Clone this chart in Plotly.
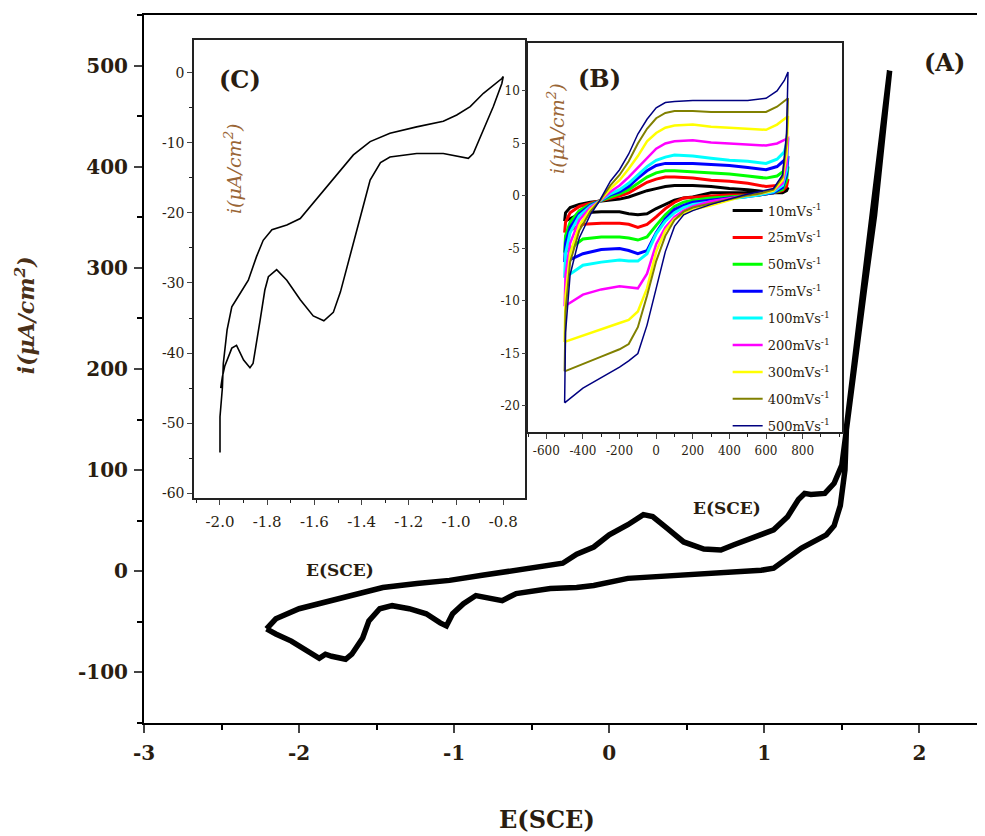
import plotly.graph_objects as go

# ---------------- Main CV (A) ----------------
a_e = [-2.21, -2.15, -2.0, -1.79, -1.61, -1.46, -1.24, -1.03, -0.82, -0.6, -0.38, -0.30, -0.21, -0.14,
       -0.10, 0.0, 0.12, 0.22, 0.28, 0.37, 0.48, 0.61, 0.72, 0.80, 0.93, 1.06, 1.15, 1.22, 1.26, 1.30,
       1.39, 1.45, 1.50, 1.53, 1.581, 1.646, 1.711, 1.754, 1.786, 1.808,
       1.53, 1.52, 1.49, 1.45, 1.40, 1.32, 1.24, 1.15, 1.06, 0.98, 0.76, 0.55, 0.33, 0.12, -0.10, -0.21,
       -0.38, -0.49, -0.60, -0.69, -0.77, -0.86, -0.94, -1.01, -1.05, -1.09, -1.18, -1.29, -1.40, -1.48,
       -1.55, -1.59, -1.66, -1.70, -1.79, -1.83, -1.87, -1.94, -2.05, -2.15, -2.21]
a_i = [-57, -47, -37, -29, -22, -16, -12, -9, -4, 1, 5, 8, 17, 22,
       24, 36, 46, 56, 54, 43, 29, 22, 21, 26, 33, 41, 54, 71, 77, 76,
       77, 87, 105, 143, 203, 279, 352, 419, 469, 495,
       143, 100, 65, 45, 36, 29, 23, 13, 3, 1, -1, -2, -4, -7, -14, -16,
       -17, -19, -22, -29, -26, -24, -32, -42, -54, -51, -42, -37, -34, -37,
       -49, -66, -82, -87, -84, -82, -86, -79, -69, -62, -57]

# ---------------- Inset (C) ----------------
c_e = [-2.0, -2.0, -1.99, -1.986, -1.97, -1.95, -1.915, -1.88, -1.845, -1.817, -1.78, -1.717, -1.66,
       -1.605, -1.548, -1.49, -1.435, -1.364, -1.28, -1.167, -1.054, -0.997, -0.94, -0.884, -0.806, -0.80,
       -0.806, -0.842, -0.884, -0.927, -0.948, -0.983, -1.054, -1.167, -1.28, -1.32, -1.364, -1.39, -1.42,
       -1.45, -1.49, -1.52, -1.56, -1.605, -1.66, -1.717, -1.76, -1.795, -1.81, -1.83, -1.86, -1.873,
       -1.90, -1.93, -1.95, -1.98, -1.99, -1.997]
c_i = [-54.2, -49.1, -45.0, -41.5, -36.7, -33.4, -31.5, -29.6, -26.2, -23.9, -22.4, -21.7, -20.8,
       -18.6, -16.2, -13.9, -11.7, -9.8, -8.6, -7.7, -6.9, -6.0, -4.8, -2.9, -0.8, -0.5,
       -1.5, -4.8, -8.1, -11.5, -12.2, -12.0, -11.5, -11.5, -12.0, -12.8, -15.3, -18.6, -22.4,
       -26.6, -31.3, -34.2, -35.4, -34.7, -32.4, -29.6, -28.1, -29.1, -31.0, -35.3, -41.5, -42.1,
       -41.0, -38.9, -39.3, -41.9, -43.4, -45.0]

# ---------------- Inset (B) : potentials (mV) of the scan, then currents per scan rate ----------------
b_e = [-500, -495, -470, -420, -360, -310, -250, -200, -150, -100, -50, 0, 50, 100, 200, 300, 400, 500,
       600, 660, 700, 720,
       720, 712, 690, 640, 560, 480, 400, 300, 200, 150, 100, 50, 0, -50, -100, -150, -200, -300, -400, -500]

b_i_10 = [-2.4, -1.6, -1.1, -0.8, -0.6, -0.5, -0.4, -0.3, -0.1, 0.2, 0.5, 0.7, 0.9, 1.0, 1.0, 0.9, 0.7, 0.6,
          0.4, 0.4, 0.6, 0.8,
          0.8, 0.5, 0.3, 0.3, 0.3, 0.3, 0.3, 0.3, -0.1, -0.2, -0.4, -0.8, -1.2, -1.7, -1.8, -1.7, -1.5, -1.5, -1.6, -2.4]
b_i_25 = [-3.5, -2.5, -1.6, -1.0, -0.7, -0.5, -0.2, 0.0, 0.3, 0.8, 1.3, 1.6, 1.8, 1.8, 1.7, 1.5, 1.4, 1.2,
          0.9, 1.0, 1.3, 1.6,
          1.6, 0.9, 0.5, 0.3, 0.1, 0.1, 0.1, 0.0, -0.1, -0.2, -0.6, -1.2, -2.0, -2.7, -3.0, -2.7, -2.6, -2.6, -2.7, -3.5]
b_i_50 = [-5.4, -3.8, -2.5, -1.4, -0.8, -0.5, -0.1, 0.2, 0.6, 1.2, 1.8, 2.2, 2.4, 2.4, 2.3, 2.2, 2.1, 1.9,
          1.7, 1.9, 2.4, 2.8,
          2.8, 1.5, 0.6, 0.3, 0.1, 0.0, -0.1, -0.2, -0.4, -0.6, -1.0, -1.8, -2.8, -3.9, -4.2, -4.0, -3.9, -3.9, -4.1, -5.4]
b_i_75 = [-6.3, -4.5, -3.0, -1.7, -0.9, -0.5, 0.1, 0.4, 0.9, 1.7, 2.4, 2.9, 3.1, 3.1, 3.1, 3.0, 2.9, 2.7,
          2.5, 2.8, 3.4, 3.8,
          3.8, 2.0, 0.8, 0.3, 0.1, -0.1, -0.2, -0.4, -0.6, -0.9, -1.3, -2.2, -3.5, -5.2, -5.5, -5.2, -5.0, -5.1, -5.5, -6.3]
b_i_100 = [-7.8, -5.5, -3.5, -1.9, -1.0, -0.5, 0.2, 0.6, 1.2, 2.0, 2.8, 3.4, 3.7, 3.9, 3.8, 3.6, 3.4, 3.3,
           3.1, 3.5, 4.2, 5.5,
           5.5, 2.5, 1.0, 0.4, 0.1, -0.1, -0.3, -0.5, -0.8, -1.1, -1.6, -2.4, -3.6, -5.5, -6.2, -6.2, -6.1, -6.3, -6.6, -7.8]
b_i_200 = [-10.5, -7.5, -4.5, -2.3, -1.1, -0.5, 0.4, 1.0, 1.8, 2.7, 3.6, 4.5, 5.0, 5.2, 5.3, 5.1, 5.0, 4.9,
           4.8, 5.0, 5.3, 5.5,
           5.5, 3.0, 1.2, 0.5, 0.2, 0.0, -0.2, -0.5, -1.0, -1.4, -2.0, -3.0, -4.6, -7.4, -8.8, -8.7, -8.6, -8.9, -9.4, -10.5]
b_i_300 = [-13.9, -9.5, -5.5, -2.8, -1.3, -0.5, 0.7, 1.5, 2.6, 3.8, 5.2, 6.0, 6.5, 6.7, 6.8, 6.6, 6.5, 6.4,
           6.3, 6.8, 7.3, 7.6,
           7.6, 4.0, 1.5, 0.5, 0.2, 0.0, -0.4, -0.9, -1.3, -1.7, -2.2, -3.3, -5.3, -8.8, -11.0, -11.8, -12.1, -12.7, -13.3, -13.9]
b_i_400 = [-16.7, -11.0, -6.3, -3.3, -1.5, -0.5, 1.0, 2.0, 3.3, 5.0, 6.4, 7.4, 7.9, 8.1, 8.1, 8.0, 8.0, 8.0,
           8.0, 8.5, 9.0, 9.3,
           9.3, 5.0, 1.8, 0.6, 0.2, 0.0, -0.3, -0.7, -1.1, -1.5, -2.3, -3.8, -6.2, -9.5, -12.5, -14.1, -14.6, -15.3, -16.0, -16.7]
b_i_500 = [-19.7, -13.0, -7.5, -4.0, -1.8, -0.5, 1.4, 2.5, 4.0, 5.9, 7.3, 8.4, 8.9, 9.0, 9.1, 9.1, 9.1, 9.1,
           9.3, 10.0, 11.0, 11.8,
           11.8, 6.0, 2.0, 0.7, 0.4, 0.1, -0.3, -0.8, -1.4, -1.8, -2.9, -5.3, -8.8, -12.3, -15.0, -15.7, -16.3, -17.3, -18.3, -19.7]

b_labels = ["10mVs<sup>-1</sup>", "25mVs<sup>-1</sup>", "50mVs<sup>-1</sup>", "75mVs<sup>-1</sup>",
            "100mVs<sup>-1</sup>", "200mVs<sup>-1</sup>", "300mVs<sup>-1</sup>", "400mVs<sup>-1</sup>",
            "500mVs<sup>-1</sup>"]
b_colors = ["#000000", "#ff0000", "#00ff00", "#0000ff", "#00ffff", "#ff00ff", "#ffff00", "#808000", "#000080"]
b_widths = [3, 3, 3, 3, 3, 2.5, 2.5, 2, 1.5]
b_series = [b_i_10, b_i_25, b_i_50, b_i_75, b_i_100, b_i_200, b_i_300, b_i_400, b_i_500]

# tick definitions
main_xticks = [-3, -2, -1, 0, 1, 2]
main_yticks = [-100, 0, 100, 200, 300, 400, 500]
c_xticks = [-2.0, -1.8, -1.6, -1.4, -1.2, -1.0, -0.8]
c_yticks = [0, -10, -20, -30, -40, -50, -60]
b_xticks = [-600, -400, -200, 0, 200, 400, 600, 800]
b_yticks = [-20, -15, -10, -5, 0, 5, 10]

SERIF = "DejaVu Serif"
TXT = "#2a1d10"
BROWN = "#9a6636"

fig = go.Figure()

fig.add_trace(go.Scatter(x=a_e, y=a_i, mode="lines", line=dict(color="black", width=5.5),
                         showlegend=False, xaxis="x", yaxis="y"))
fig.add_trace(go.Scatter(x=c_e, y=c_i, mode="lines", line=dict(color="black", width=1.6),
                         showlegend=False, xaxis="x2", yaxis="y2"))
for k, (ys, lab, col, w) in enumerate(zip(b_series, b_labels, b_colors, b_widths)):
    fig.add_trace(go.Scatter(x=b_e, y=ys, mode="lines", name=lab, legendgroup=str(k),
                             line=dict(color=col, width=w), xaxis="x3", yaxis="y3"))

main_font = dict(family=SERIF, size=20, color=TXT, weight="bold")
fig.update_layout(
    width=977, height=828,
    margin=dict(l=136, r=0, t=7, b=113),
    paper_bgcolor="white", plot_bgcolor="white",
    xaxis=dict(domain=[0, 1], range=[-3, 2.423], tickvals=main_xticks,
               ticktext=[str(v) for v in main_xticks], ticks="outside", ticklen=8,
               tickwidth=2, showline=True, linewidth=2, linecolor="black", mirror=True,
               showgrid=False, zeroline=False, tickfont=main_font, ticklabelstandoff=3,
               minor=dict(tickmode="linear", tick0=-3, dtick=0.5, ticks="outside", ticklen=5,
                          tickwidth=1.5, tickcolor="black", showgrid=False)),
    yaxis=dict(domain=[0, 1], range=[-150, 550], tickvals=main_yticks,
               ticktext=[str(v) for v in main_yticks], ticks="outside", ticklen=8,
               tickwidth=2, showline=True, linewidth=2, linecolor="black", mirror=False,
               showgrid=False, zeroline=False, tickfont=main_font, ticklabelstandoff=2,
               minor=dict(tickmode="linear", tick0=0, dtick=50, ticks="outside", ticklen=5,
                          tickwidth=1.5, tickcolor="black", showgrid=False)),
    xaxis2=dict(domain=[0.0595, 0.4530], anchor="y2", range=[-2.110, -0.708], tickvals=c_xticks,
                ticktext=["%.1f" % v for v in c_xticks], ticks="outside", ticklen=5, tickwidth=1.2,
                showline=True, linewidth=1.5, linecolor="#222", mirror=True, showgrid=False,
                zeroline=False, ticklabelstandoff=4,
                tickfont=dict(family=SERIF, size=15, color=TXT),
                minor=dict(tickmode="linear", tick0=-2.0, dtick=0.1, ticks="outside", ticklen=3,
                           tickcolor="#222", showgrid=False)),
    yaxis2=dict(domain=[0.3178, 0.9647], anchor="x2", range=[-60.71, 4.71], tickvals=c_yticks,
                ticktext=[str(v) for v in c_yticks],
                ticks="outside", ticklen=5, tickwidth=1.2, showline=True, linewidth=1.5,
                linecolor="#222", mirror=True, showgrid=False, zeroline=False,
                tickfont=dict(family=SERIF, size=14, color=TXT),
                minor=dict(tickmode="linear", tick0=0, dtick=5, ticks="outside", ticklen=3,
                           tickcolor="#222", showgrid=False)),
    xaxis3=dict(domain=[0.4566, 0.8300], anchor="y3", range=[-700, 1015], tickvals=b_xticks,
                ticktext=[str(v) for v in b_xticks],
                ticks="outside", ticklen=5, tickwidth=1.2, showline=True, linewidth=1.5,
                linecolor="#222", mirror=True, showgrid=False, zeroline=False, ticklabelstandoff=2,
                tickfont=dict(family=SERIF, size=12, color=TXT),
                minor=dict(tickmode="linear", tick0=0, dtick=100, ticks="outside", ticklen=3,
                           tickcolor="#222", showgrid=False)),
    yaxis3=dict(domain=[0.4110, 0.9605], anchor="x3", range=[-22.48, 14.57], tickvals=b_yticks,
                ticktext=[str(v) for v in b_yticks],
                ticks="outside", ticklen=4, tickwidth=1.2, showline=True, linewidth=1.5,
                linecolor="#222", mirror=True, showgrid=False, zeroline=False,
                tickfont=dict(family=SERIF, size=12, color=TXT)),
    legend=dict(x=0.694, y=0.745, xanchor="left", yanchor="top", bgcolor="rgba(0,0,0,0)",
                font=dict(family=SERIF, size=13, color=TXT), tracegroupgap=7, itemwidth=30,
                traceorder="grouped"),
)

ann = [
    dict(text="<b>(A)</b>", x=0.9524, y=0.9336, size=24, color=TXT),
    dict(text="<b>(B)</b>", x=0.5422, y=0.911, size=24, color=TXT),
    dict(text="<b>(C)</b>", x=0.1141, y=0.9082, size=24, color=TXT),
    dict(text="<b>E(SCE)</b>", x=0.2331, y=0.2161, size=17, color=TXT),
    dict(text="<b>E(SCE)</b>", x=0.6932, y=0.3037, size=17, color=TXT),
    dict(text="<b>E(SCE)</b>", x=0.4792, y=-0.137, size=24, color=TXT),
]
for a in ann:
    fig.add_annotation(text=a["text"], x=a["x"], y=a["y"], xref="paper", yref="paper",
                       showarrow=False, xanchor="center", yanchor="middle",
                       font=dict(family=SERIF, size=a["size"], color=a["color"]))

fig.add_annotation(text="<b><i>i(μA/cm<sup>2</sup>)</i></b>", x=-0.1415, y=0.576, xref="paper",
                   yref="paper", showarrow=False, textangle=-90, xanchor="center", yanchor="middle",
                   font=dict(family=SERIF, size=22, color="#4a3018"))
fig.add_annotation(text="<i>i(μA/cm<sup>2</sup>)</i>", x=0.1058, y=0.7839, xref="paper",
                   yref="paper", showarrow=False, textangle=-90, xanchor="center", yanchor="middle",
                   font=dict(family=SERIF, size=19, color=BROWN))
fig.add_annotation(text="<i>i(μA/cm<sup>2</sup>)</i>", x=0.4898, y=0.8404, xref="paper",
                   yref="paper", showarrow=False, textangle=-90, xanchor="center", yanchor="middle",
                   font=dict(family=SERIF, size=19, color=BROWN))

fig.write_html("out.html")
